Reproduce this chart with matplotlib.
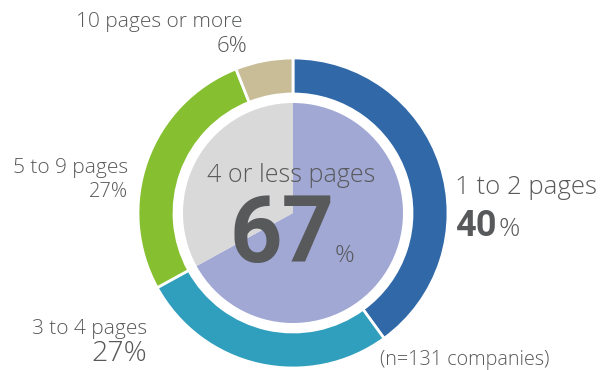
import matplotlib.pyplot as plt

# Outer ring: document length breakdown
ring_labels = ['1 to 2 pages', '3 to 4 pages', '5 to 9 pages', '10 pages or more']
ring_values = [40, 27, 27, 6]
ring_colors = ['#3169a8', '#309fbd', '#86bf30', '#c9bd98']

# Inner pie: 4 or less pages vs. the rest
inner_values = [67, 33]
inner_colors = ['#a1a8d4', '#d9d9d9']

sample_note = '(n=131 companies)'

txt = '#58595b'
light = dict(color=txt, fontweight='light', family=['Open Sans', 'DejaVu Sans'])
heavy = dict(color=txt, fontweight='bold', family=['Roboto', 'DejaVu Sans'])

fig = plt.figure(figsize=(6.01, 3.70), dpi=100)
ax = fig.add_axes([0, 0, 1, 1])

cx, cy = 293, 157

ax.pie(ring_values, colors=ring_colors, startangle=90, counterclock=False,
       center=(cx, cy), radius=155, frame=True,
       wedgeprops=dict(width=36, edgecolor='white', linewidth=2))
ax.pie(inner_values, colors=inner_colors, startangle=90, counterclock=False,
       center=(cx, cy), radius=110, frame=True,
       wedgeprops=dict(linewidth=0))
ax.set_xlim(0, 601)
ax.set_ylim(0, 370)
ax.set_aspect('equal')
ax.axis('off')

# centre label
ax.text(cx - 2, 195, '4 or less pages', ha='center', va='center', fontsize=18, **light)
ax.text(282, 108, f'{inner_values[0]}', ha='center', va='baseline', fontsize=66, **heavy)
ax.text(335, 108, '%', ha='left', va='baseline', fontsize=17.5, **light)

# 1 to 2 pages
ax.text(455, 182, ring_labels[0], ha='left', va='center', fontsize=18.5, **light)
ax.text(455, 134, f'{ring_values[0]}', ha='left', va='baseline', fontsize=26, **heavy)
ax.text(499, 134, '%', ha='left', va='baseline', fontsize=19, **light)

# 3 to 4 pages
ax.text(147, 41, ring_labels[1], ha='right', va='center', fontsize=15, **light)
ax.text(147, 16, f'{ring_values[1]}%', ha='right', va='center', fontsize=20.5, **light)

# 5 to 9 pages
ax.text(128, 202, ring_labels[2], ha='right', va='center', fontsize=15, **light)
ax.text(128, 178, f'{ring_values[2]}%', ha='right', va='center', fontsize=14.5, **light)

# 10 pages or more
ax.text(243, 348, ring_labels[3], ha='right', va='center', fontsize=15, **light)
ax.text(247, 324, f'{ring_values[3]}%', ha='right', va='center', fontsize=16, **light)

ax.text(380, 10, sample_note, ha='left', va='center', fontsize=14.2, **light)

fig.savefig('out.png', dpi=100)
